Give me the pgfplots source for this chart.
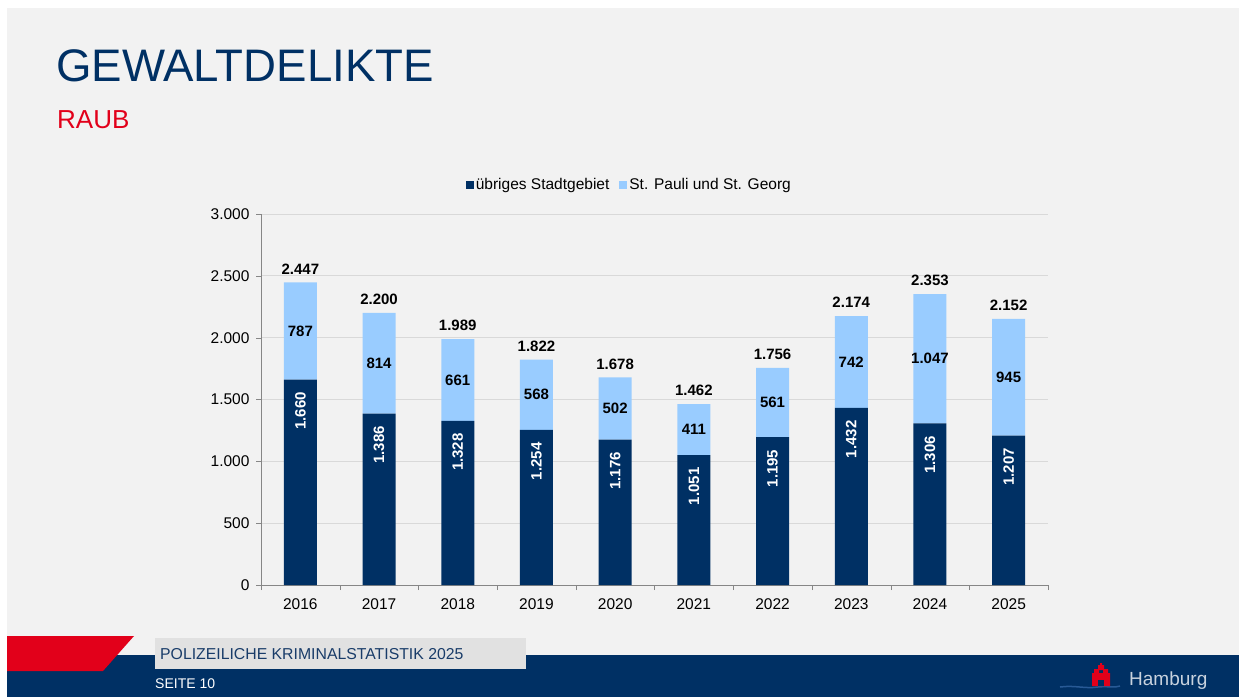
\documentclass[border=0pt]{standalone}
\usepackage{fontspec}
\setmainfont{Liberation Sans}
\usepackage{pgfplots}
\pgfplotsset{compat=1.18}
\usepackage{pgfplotstable}

\definecolor{hhblue}{HTML}{003064}
\definecolor{hhlight}{HTML}{99CCFF}
\definecolor{hhred}{HTML}{E2001A}
\definecolor{bg}{HTML}{F2F2F2}
\definecolor{boxgray}{HTML}{E1E1E1}
\definecolor{gridgray}{HTML}{D9D9D9}
\definecolor{axisgray}{HTML}{868686}

\newcommand\sz[1]{\fontsize{#1}{#1}\selectfont}

% Raub: übriges Stadtgebiet (rest), St. Pauli und St. Georg (stpg)
\pgfplotstableread{
idx year rest stpg
0 2016 1660 787
1 2017 1386 814
2 2018 1328 661
3 2019 1254 568
4 2020 1176 502
5 2021 1051 411
6 2022 1195 561
7 2023 1432 742
8 2024 1306 1047
9 2025 1207 945
}\raub

\pgfkeys{/pgf/number format/de/.style={/pgf/number format/fixed,
  /pgf/number format/precision=0, /pgf/number format/1000 sep={.},
  /pgf/number format/assume math mode=true}}

\pgfplotsset{
  frame/.style={
    at={(261pt,112pt)}, anchor=south west,
    scale only axis, width=787pt, height=371pt,
    xmin=-0.5, xmax=9.5, ymin=0, ymax=3000,
  },
  sq legend/.style={legend image code/.code={\fill[##1] (0pt,-4pt) rectangle (8pt,4pt);}},
}

\begin{document}
\begin{tikzpicture}[x=1pt,y=1pt]
\path[use as bounding box] (0,0) rectangle (1239,697);
\fill[white] (0,0) rectangle (1239,697);
\fill[bg] (7,0) rectangle (1239,689);

% titles
\node[anchor=base west, inner sep=0, text=hhblue, font=\sz{45.6}] at (56,615) {GEWALTDELIKTE};
\node[anchor=base west, inner sep=0, text=hhred, font=\sz{26}] at (57,568) {RAUB};

\begin{axis}[frame,
  ybar stacked, bar width=33pt,
  axis x line*=bottom, axis y line*=left,
  axis line style={axisgray},
  ymajorgrids, grid style={gridgray, line width=0.8pt},
  ytick={0,500,...,3000},
  yticklabel style={font=\sz{15.5}, xshift=-3pt, /pgf/number format/de},
  scaled y ticks=false,
  ytick align=outside, major tick length=5pt,
  ytick style={axisgray},
  xtick={0,...,9},
  xticklabels from table={\raub}{year},
  xticklabel style={font=\sz{15.5}, yshift=-5pt},
  major x tick style={draw=none},
  minor xtick={-0.5,0.5,...,9.5},
  minor x tick style={axisgray},
  xtick align=outside, minor tick length=5pt,
  legend style={at={(0.468,1.078)}, anchor=center, draw=none, fill=none,
    legend columns=2, font=\sz{15.5},
    /tikz/every even column/.append style={column sep=8pt}},
]
\addplot[fill=hhblue, draw=none, sq legend] table[x=idx, y=rest] {\raub};
\addlegendentry{übriges Stadtgebiet}
\addplot[fill=hhlight, draw=none, sq legend] table[x=idx, y=stpg] {\raub};
\addlegendentry{St. Pauli und St. Georg}
\end{axis}

% value labels
\begin{axis}[frame, hide axis]
\addplot[draw=none, mark=none,
  point meta={\thisrow{rest}},
  nodes near coords={\pgfmathprintnumber[de]{\pgfplotspointmeta}},
  every node near coord/.style={rotate=90, anchor=east, inner sep=0pt, text=white, font=\bfseries\sz{15}}]
  table[x=idx, y expr={\thisrow{rest}-100}] {\raub};
\addplot[draw=none, mark=none,
  point meta={\thisrow{stpg}},
  nodes near coords={\pgfmathprintnumber[de]{\pgfplotspointmeta}},
  every node near coord/.style={anchor=center, inner sep=0pt, text=black, font=\bfseries\sz{15}}]
  table[x=idx, y expr={\thisrow{rest}+\thisrow{stpg}/2}] {\raub};
\addplot[draw=none, mark=none,
  point meta={\thisrow{rest}+\thisrow{stpg}},
  nodes near coords={\pgfmathprintnumber[de]{\pgfplotspointmeta}},
  every node near coord/.style={anchor=south, inner sep=0pt, yshift=8pt, text=black, font=\bfseries\sz{15}}]
  table[x=idx, y expr={\thisrow{rest}+\thisrow{stpg}}] {\raub};
\end{axis}

% footer
\fill[hhblue] (7,0) rectangle (1239,42);
\fill[hhred] (7,26) -- (7,61) -- (134,61) -- (103,26) -- cycle;
\fill[boxgray] (155,28) rectangle (526,59);
\node[anchor=west, inner sep=0, text={rgb,255:red,25;green,60;blue,105}, font=\sz{15.8}] at (160,43) {POLIZEILICHE KRIMINALSTATISTIK 2025};
\node[anchor=west, inner sep=0, text=white, font=\sz{14}] at (155,13) {SEITE 10};

% Hamburg logo
\draw[color={rgb,255:red,40;green,90;blue,150}, line width=1.5pt]
  (1060,10) .. controls (1075,12) and (1085,8) .. (1098,10) .. controls (1108,11) and (1115,9) .. (1120,11);
\fill[hhred] (1092,11) rectangle (1110,24)
  (1094,24) rectangle (1099,28) (1103,24) rectangle (1108,28)
  (1098,27) rectangle (1104,32) (1100,32) rectangle (1102,34);
\fill[hhblue] (1098,11) rectangle (1104,17);
\node[anchor=west, inner sep=0, text={rgb,255:red,200;green,210;blue,222}, font=\sz{19}] at (1129,16) {Hamburg};
\end{tikzpicture}
\end{document}
